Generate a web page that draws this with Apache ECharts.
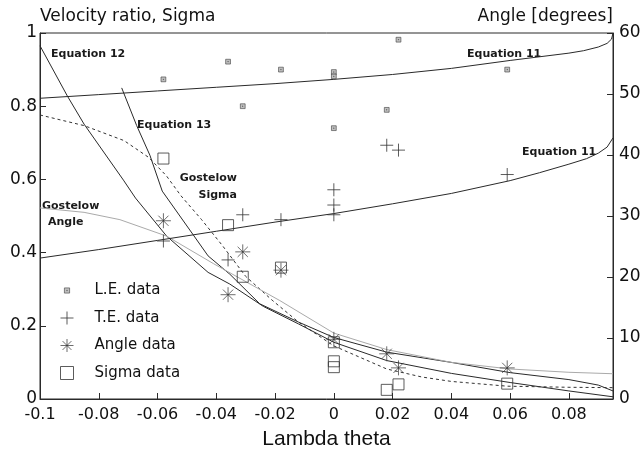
<!DOCTYPE html>
<html><head><meta charset="utf-8">
<script src="https://cdn.jsdelivr.net/npm/echarts@6/dist/echarts.min.js"></script>
<style>html,body{margin:0;padding:0;background:#fff}#c{width:644px;height:455px}</style>
</head><body><div id="c"></div>
<script>
// ---- data (x = Lambda theta) ----
const xTicks = [-0.1, -0.08, -0.06, -0.04, -0.02, 0, 0.02, 0.04, 0.06, 0.08];
// L.E. and T.E. angles [degrees] (right axis)
const leData = [[-0.058,52.4],[-0.036,55.3],[-0.031,48.0],[-0.018,54.0],[0,53.6],[0,52.9],[0,44.4],[0.018,47.4],[0.022,58.9],[0.059,54.0]];
const teData = [[-0.058,25.9],[-0.036,22.8],[-0.031,30.2],[-0.018,29.4],[0,34.3],[0,31.8],[0,30.2],[0.018,41.6],[0.022,40.8],[0.059,36.8]];
// Angle data and Sigma data (left axis)
const angleData = [[-0.058,0.487],[-0.036,0.285],[-0.031,0.402],[-0.018,0.352],[0,0.163],[0.018,0.1235],[0.022,0.085],[0.059,0.085]];
const sigmaData = [[-0.058,0.657],[-0.036,0.475],[-0.031,0.334],[-0.018,0.359],[0,0.155],[0,0.103],[0,0.087],[0.018,0.025],[0.022,0.040],[0.059,0.042]];
// curves
const eq12 = [[-0.1,0.965],[-0.0907,0.828],[-0.085,0.751],[-0.0716,0.598],[-0.0675,0.549],[-0.0569,0.445],[-0.0428,0.346],[-0.0354,0.314],[-0.024,0.253],[-0.012,0.205],[0,0.155],[0.018,0.105],[0.04,0.07],[0.06,0.045],[0.08,0.022],[0.095,0.006]];
const eq13 = [[-0.0722,0.85],[-0.0671,0.747],[-0.0626,0.666],[-0.0584,0.568],[-0.0479,0.449],[-0.0428,0.391],[-0.0354,0.341],[-0.0252,0.26],[-0.012,0.21],[0,0.168],[0.018,0.128],[0.04,0.1],[0.06,0.072],[0.08,0.053],[0.09,0.038],[0.095,0.022]];
const gostelowSigma = [[-0.1,0.776],[-0.085,0.747],[-0.0714,0.706],[-0.063,0.66],[-0.057,0.61],[-0.052,0.555],[-0.045,0.49],[-0.038,0.42],[-0.03,0.335],[-0.021,0.27],[-0.012,0.21],[0,0.145],[0.018,0.082],[0.03,0.06],[0.04,0.048],[0.059,0.035],[0.08,0.032],[0.095,0.031]];
const gostelowAngle = [[-0.1,0.522],[-0.085,0.51],[-0.0728,0.49],[-0.0569,0.445],[-0.041,0.37],[-0.0184,0.269],[0,0.18],[0.018,0.135],[0.04,0.1],[0.06,0.082],[0.08,0.073],[0.095,0.069]];
const eq11Upper = [[-0.1,49.3],[-0.08,49.9],[-0.06,50.5],[-0.04,51.1],[-0.02,51.7],[0,52.4],[0.02,53.2],[0.04,54.2],[0.06,55.5],[0.07,56.1],[0.08,56.7],[0.085,57.1],[0.09,57.7],[0.093,58.3],[0.0945,59.0],[0.095,60]];
const eq11Lower = [[-0.1,23.1],[-0.08,24.5],[-0.06,26.0],[-0.04,27.5],[-0.02,29.0],[0,30.4],[0.02,32.0],[0.04,33.7],[0.06,35.8],[0.07,37.1],[0.08,38.5],[0.086,39.4],[0.09,40.3],[0.093,41.3],[0.095,42.8]];

const INK = '#2a2a2a';
const FONT = 'DejaVu Sans';
const plusPath = 'path://M5 0L5 10M0 5L10 5';
const starPath = 'path://M5 0L5 10M0 5L10 5M1.6 1.6L8.4 8.4M8.4 1.6L1.6 8.4';
const lePath = 'path://M0 0M10 10M3 3h4v4h-4zM4.8 4.8h0.4v0.4h-0.4z';
const sqPath = 'path://M0.5 0.5h9v9h-9z';

const chart = echarts.init(document.getElementById('c'));
function curve(name, data, yIdx, ls) {
  return {name, type:'line', data, yAxisIndex:yIdx, symbol:'none', silent:true,
    lineStyle:Object.assign({color:INK, width:1}, ls||{}), z:2};
}
function ann(text, x, y, align) {
  return {type:'text', x, y, style:{text, fill:'#1a1a1a', font:'bold 11px "'+FONT+'"', align:align||'left', verticalAlign:'middle'}};
}
const styles = {
  'L.E. data':{color:'#b0b0b0', borderColor:'#444', borderWidth:0.8},
  'T.E. data':{color:'transparent', borderColor:'#333', borderWidth:1},
  'Angle data':{color:'transparent', borderColor:'#333', borderWidth:0.9},
  'Sigma data':{color:'transparent', borderColor:'#333', borderWidth:1}
};
chart.setOption({
  animation:false,
  backgroundColor:'#fff',
  grid:{left:40, right:31, top:33, bottom:52, show:true, borderColor:INK, borderWidth:1},
  xAxis:{type:'value', min:-0.1, max:0.095, interval:0.02,
    axisLine:{onZero:false, lineStyle:{color:INK}}, splitLine:{show:false},
    axisTick:{inside:true, length:6, lineStyle:{color:INK}},
    axisLabel:{color:'#111', fontFamily:FONT, fontSize:16, margin:8, showMaxLabel:false,
      formatter:v => xTicks.some(t => Math.abs(t - v) < 1e-9) ? String(+v.toFixed(2)) : ''},
    name:'Lambda theta', nameLocation:'middle', nameGap:30,
    nameTextStyle:{color:'#111', fontFamily:'Liberation Sans', fontSize:21}},
  yAxis:[
    {type:'value', min:0, max:1, interval:0.2, position:'left',
      axisLine:{show:true, onZero:false, lineStyle:{color:INK}}, splitLine:{show:false},
      axisTick:{show:true, inside:true, length:6, lineStyle:{color:INK}},
      axisLabel:{color:'#111', fontFamily:FONT, fontSize:17, margin:3}},
    {type:'value', min:0, max:60, interval:10, position:'right',
      axisLine:{show:true, onZero:false, lineStyle:{color:INK}}, splitLine:{show:false},
      axisTick:{show:true, inside:true, length:6, lineStyle:{color:INK}},
      axisLabel:{color:'#111', fontFamily:FONT, fontSize:17, margin:6}}
  ],
  legend:{orient:'vertical', left:60, top:283, padding:0, itemWidth:13, itemHeight:13, itemGap:12.5, itemTextGap:5,
    textStyle:{color:'#111', fontFamily:FONT, fontSize:15, padding:[0,0,0,16]},
    data:Object.keys(styles).map(n => ({name:n, itemStyle:styles[n]})), selectedMode:false},
  graphic:[
    {type:'text', x:40, y:17, style:{text:'Velocity ratio, Sigma', fill:'#111', font:'17px "'+FONT+'"', align:'left', verticalAlign:'middle'}},
    {type:'text', x:613, y:17, style:{text:'Angle [degrees]', fill:'#111', font:'17px "'+FONT+'"', align:'right', verticalAlign:'middle'}},
    ann('Equation 12', 51, 54),
    ann('Equation 13', 137, 125),
    ann('Gostelow', 237, 178, 'right'),
    ann('Sigma', 237, 195, 'right'),
    ann('Gostelow', 42, 206),
    ann('Angle', 48, 222),
    ann('Equation 11', 467, 54),
    ann('Equation 11', 522, 152)
  ],
  series:[
    curve('Equation 12', eq12, 0),
    curve('Equation 13', eq13, 0),
    curve('Gostelow Sigma', gostelowSigma, 0, {type:[3,3], color:'#333'}),
    curve('Gostelow Angle', gostelowAngle, 0, {color:'#aaaaaa'}),
    curve('Equation 11 upper', eq11Upper, 1),
    curve('Equation 11 lower', eq11Lower, 1),
    {name:'L.E. data', type:'scatter', yAxisIndex:1, data:leData, symbol:lePath, symbolSize:12,
      itemStyle:styles['L.E. data'], z:5},
    {name:'T.E. data', type:'scatter', yAxisIndex:1, data:teData, symbol:plusPath, symbolSize:13,
      itemStyle:styles['T.E. data'], z:5},
    {name:'Angle data', type:'scatter', yAxisIndex:0, data:angleData, symbol:starPath, symbolSize:15,
      itemStyle:styles['Angle data'], z:5},
    {name:'Sigma data', type:'scatter', yAxisIndex:0, data:sigmaData, symbol:sqPath, symbolSize:11,
      itemStyle:styles['Sigma data'], z:5}
  ]
});
</script></body></html>
